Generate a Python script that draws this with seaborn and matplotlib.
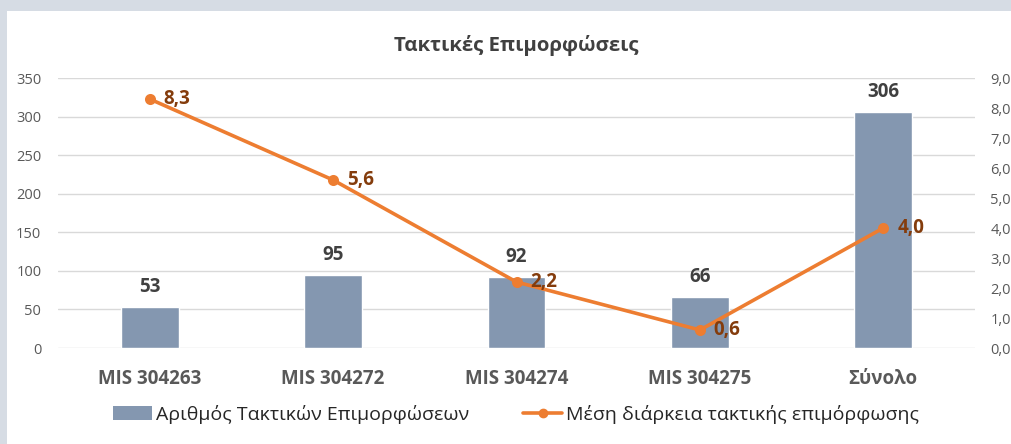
import matplotlib
matplotlib.use("Agg")
import matplotlib.pyplot as plt
import seaborn as sns
import pandas as pd
from matplotlib.patches import Rectangle, Patch
from matplotlib.lines import Line2D

categories = ["MIS 304263", "MIS 304272", "MIS 304274", "MIS 304275", "Σύνολο"]
counts = [53, 95, 92, 66, 306]
durations = [8.3, 5.6, 2.2, 0.6, 4.0]
left_ticks = [0, 50, 100, 150, 200, 250, 300, 350]
right_ticks = [0, 1, 2, 3, 4, 5, 6, 7, 8, 9]
title = "Τακτικές Επιμορφώσεις"
bar_label = "Αριθμός Τακτικών Επιμορφώσεων"
line_label = "Μέση διάρκεια τακτικής επιμόρφωσης"

sns.set_theme(style="white")
plt.rcParams['font.family'] = ['Open Sans', 'DejaVu Sans']

BAR = "#8497B0"
LINE = "#ED7D31"
LBL = "#843C0C"
TXT = "#595959"
DARK = "#404040"
GRID = "#D9D9D9"

df = pd.DataFrame({"cat": categories, "count": counts, "dur": durations})

fig = plt.figure(figsize=(10.12, 4.44), dpi=100)
fig.patch.set_facecolor("#D6DCE4")
fig.patches.append(Rectangle((7/1012, 0), 1, 1 - 11/444, transform=fig.transFigure,
                             facecolor="white", edgecolor="none", zorder=-10))

ax = fig.add_axes([58/1012, 1 - 348/444, (975-58)/1012, (348-78)/444])
ax.set_facecolor("none")
sns.barplot(data=df, x="cat", y="count", color=BAR, width=0.316, saturation=1, ax=ax, zorder=2)
ax.set_ylim(0, 350)
ax.set_yticks(left_ticks)
ax.yaxis.grid(True, color=GRID, linewidth=1)
ax.set_axisbelow(True)
for s in ax.spines.values():
    s.set_visible(False)
ax.set_xlabel("")
ax.set_ylabel("")
ax.tick_params(axis="y", length=0, pad=12, labelsize=10.5, labelcolor=TXT)
ax.tick_params(axis="x", length=0, pad=15, labelsize=13.5, labelcolor=TXT)
for t in ax.get_xticklabels():
    t.set_fontweight("bold")
for i, v in enumerate(counts):
    ax.annotate(str(v), (i, v), xytext=(0, 7), textcoords="offset points",
                ha="center", va="bottom", fontsize=13.5, fontweight="bold", color=DARK)

ax2 = ax.twinx()
sns.pointplot(data=df, x="cat", y="dur", color=LINE, markers="o", linestyles="-",
              markersize=6, linewidth=2.6, ax=ax2)
ax2.set_ylim(0, 9)
ax2.set_yticks(right_ticks)
ax2.set_yticklabels([f"{t:.1f}".replace(".", ",") for t in right_ticks])
for s in ax2.spines.values():
    s.set_visible(False)
ax2.set_ylabel("")
ax2.set_xlabel("")
ax2.tick_params(axis="y", length=0, pad=11, labelsize=10.5, labelcolor=TXT)
for i, v in enumerate(durations):
    ax2.annotate(f"{v:.1f}".replace(".", ","), (i, v), xytext=(10, 0), textcoords="offset points",
                 ha="left", va="center", fontsize=13.5, fontweight="bold", color=LBL)

fig.text(516/1012, 1 - 45/444, title, ha="center", va="center", fontsize=14.7,
         fontweight="bold", color=DARK)

handles = [Patch(facecolor=BAR, edgecolor="none"),
           Line2D([0], [0], color=LINE, lw=2.6, marker="o", markersize=6)]
fig.legend(handles, [bar_label, line_label], loc="center", bbox_to_anchor=(516/1012, 1 - 414/444),
           ncol=2, frameon=False, fontsize=14, columnspacing=2.8, handlelength=2.0,
           handletextpad=0.2, labelcolor="#262626")

fig.savefig("out.png", dpi=100, facecolor=fig.get_facecolor())
